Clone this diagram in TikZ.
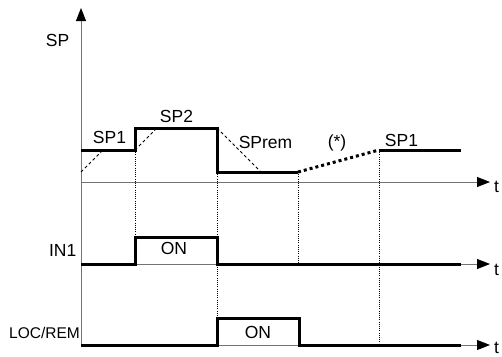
\documentclass[tikz,border=0pt]{standalone}
\usepackage{fontspec}
\setmainfont{Liberation Sans}
\usetikzlibrary{arrows.meta}
\begin{document}
\begin{tikzpicture}[x=1pt,y=-1pt,
  axisline/.style={draw=black!55,line width=0.9pt},
  axarrow/.style={axisline,-{Triangle[length=13pt,width=10pt,color=black]}},
  sig/.style={draw=black,line width=3pt,line join=miter,line cap=butt},
  rampline/.style={draw=black,line width=0.8pt,dash pattern=on 3pt off 2.5pt},
  vguide/.style={draw=black,line width=0.6pt,dash pattern=on 1pt off 1.2pt},
  thickdot/.style={draw=black,line width=3pt,dash pattern=on 3pt off 3pt},
  lbl/.style={font=\fontsize{17.5}{17.5}\selectfont,inner sep=0pt,anchor=base},
  lblr/.style={lbl,anchor=base east},
]
\useasboundingbox (0,0) rectangle (502,356);
% key coordinates
\coordinate (o) at (81,347);
\coordinate (ytop) at (81,8);
\coordinate (a0) at (81,182);   \coordinate (a1) at (490,182);
\coordinate (b0) at (81,264);   \coordinate (b1) at (490,264);
\coordinate (c0) at (81,345);   \coordinate (c1) at (490,345);
% axes
\draw[axarrow] (o) -- (ytop);
\draw[axarrow] (a0) -- (a1);
\draw[axarrow] (b0) -- (b1);
\draw[axarrow] (c0) -- (c1);
% SP signal
\coordinate (s0) at (81,150);
\coordinate (s1) at (135,150);
\coordinate (s2) at (135,128);
\coordinate (s3) at (217,128);
\coordinate (s4) at (217,172);
\coordinate (s5) at (298,172);
\coordinate (s6) at (379,150);
\coordinate (s7) at (461,150);
% guides
\coordinate (g1) at (135,237);
\coordinate (g2) at (217,318);
\coordinate (g3) at (298,264);
\coordinate (g4) at (379,345);
\draw[vguide] (s1) -- (g1);
\draw[vguide] (s4) -- (g2);
\draw[vguide] (s5) -- (g3);
\draw[vguide] (s6) -- (g4);
% ramps
\coordinate (r0) at (81,172);  \coordinate (r1) at (103,150);
\coordinate (r2) at (157,128);
\coordinate (r3) at (261,172);
\draw[rampline] (r0) -- (r1);
\draw[rampline] (s1) -- (r2);
\draw[rampline] (s3) -- (r3);
\draw[sig] (s0) -- (s1) -- (s2) -- (s3) -- (s4) -- (s5);
\draw[thickdot] (s5) -- (s6);
\draw[sig] (s6) -- (s7);
% IN1 signal
\coordinate (i0) at (81,264);
\coordinate (i1) at (135,264);
\coordinate (i2) at (217,237);
\coordinate (i3) at (217,264);
\coordinate (i4) at (461,264);
\draw[sig] (i0) -- (i1) -- (g1) -- (i2) -- (i3) -- (i4);
% LOC/REM signal
\coordinate (l0) at (81,345);
\coordinate (l1) at (217,345);
\coordinate (l2) at (299,318);
\coordinate (l3) at (299,345);
\coordinate (l4) at (461,345);
\draw[sig] (l0) -- (l1) -- (g2) -- (l2) -- (l3) -- (l4);
% labels
\node[lblr] (tsp) at (69.5,46.5) {SP};
\node[lbl] (tsp1) at (109.5,143.5) {SP1};
\node[lbl] (tsp2) at (176.5,122.3) {SP2};
\node[lbl] (tsprem) at (265.5,148) {SPrem};
\node[lbl] (tstar) at (337,147) {(*)};
\node[lbl] (tsp1b) at (401.5,146) {SP1};
\node[lbl,anchor=base west] (t1) at (494,192) {t};
\node[lbl,anchor=base west] (t2) at (494,275) {t};
\node[lbl,anchor=base west] (t3) at (494,353) {t};
\node[lblr] (tin1) at (76.5,256.5) {IN1};
\node[lbl] (ton1) at (174,254.5) {ON};
\node[lblr,font=\fontsize{15.5}{15.5}\selectfont] (tloc) at (80,338) {LOC/REM};
\node[lbl] (ton2) at (258,338) {ON};
\end{tikzpicture}
\end{document}
